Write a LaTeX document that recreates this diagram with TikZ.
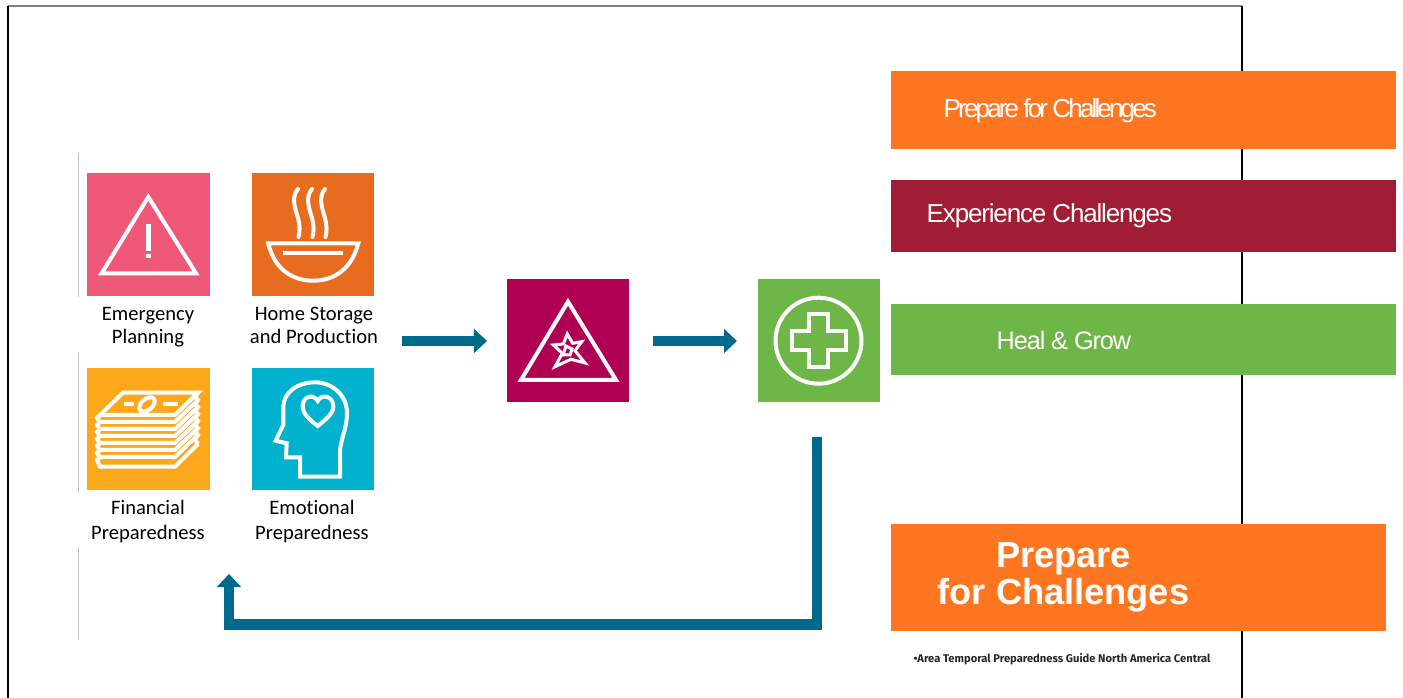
\documentclass[tikz,border=0pt]{standalone}
\usepackage{fontspec}
\setmainfont[Ligatures=NoCommon]{Carlito}
\newfontfamily\barfont[LetterSpace=-4.5]{Liberation Sans}
\newfontfamily\tightfont[LetterSpace=-11]{Liberation Sans}
\newfontfamily\boldfont{Liberation Sans}
\newfontfamily\notefont{Fira Sans}
\usetikzlibrary{arrows.meta}
\definecolor{flowblue}{HTML}{006A8E}
\definecolor{barorange}{HTML}{FF7620}
\definecolor{barred}{HTML}{A01D35}
\definecolor{bargreen}{HTML}{6DB647}
\tikzset{
	iconbox/.style={minimum size=1.225cm, inner sep=0pt, outer sep=0pt},
	glyph/.style={draw=white, line width=0.04cm, line join=miter},
	flow/.style={draw=flowblue, line width=0.105cm, -{Triangle[width=0.235cm,length=0.13cm]}},
	caption/.style={font=\fontsize{5.85}{5.85}\selectfont, text=black, inner sep=0pt, anchor=base},
	bartext/.style={text=white, inner sep=0pt},
}

\begin{document}
\begin{tikzpicture}[x=0.01cm, y=-0.01cm]
	\useasboundingbox (0,0) rectangle (1403,698);

	% page frame
	\draw[gray, line width=0.012cm] (8,6) -- (1242,6);
	\draw[black, line width=0.028cm] (8,6) -- (8,698);
	\draw[black, line width=0.02cm] (1242,6) -- (1242,698);

	% thin rule at the left
	\draw[gray!50, line width=0.01cm] (78,153) -- (78,297);
	\draw[gray!50, line width=0.01cm] (78,352) -- (78,492);
	\draw[gray!50, line width=0.01cm] (78,548) -- (78,640);

	% icon squares
	\node[iconbox, fill={rgb,255:red,240;green,88;blue,122}] (planning) at (148.5,234.7) {};
	\node[iconbox, fill={rgb,255:red,232;green,108;blue,32}] (storage) at (313,234.7) {};
	\node[iconbox, fill={rgb,255:red,252;green,168;blue,26}] (financial) at (148.5,429) {};
	\node[iconbox, fill={rgb,255:red,0;green,178;blue,206}] (emotional) at (313,429) {};
	\node[iconbox, fill={rgb,255:red,176;green,0;blue,84}] (challenge) at (568,340.5) {};
	\node[iconbox, fill=bargreen] (heal) at (819,340.5) {};

	% warning triangle
	\draw[glyph] (148.3,197) -- (196,273.3) -- (101.7,273.3) -- cycle;
	\draw[glyph, line width=0.045cm] (148.3,224) -- (148.3,251);
	\draw[glyph, line width=0.045cm] (148.3,254) -- (148.3,258);

	% bowl and steam
	\draw[glyph] (268.3,243.3) -- (358.3,243.3) .. controls (352,268) and (335,280.7) .. (313.3,280.7) .. controls (291,280.7) and (274,268) .. cycle;
	\draw[glyph] (283.3,253.3) -- (343.3,253.3);
	\draw[glyph, line cap=round] (298,189) .. controls (291,197) and (295,208) .. (298,218) .. controls (300,226) and (300,231) .. (298.5,237);
	\draw[glyph, line cap=round] (312,189) .. controls (305,197) and (309,208) .. (312,218) .. controls (314,226) and (314,231) .. (312.5,237);
	\draw[glyph, line cap=round] (325,189) .. controls (318,197) and (322,208) .. (325,218) .. controls (327,226) and (327,231) .. (325.5,237);

	% stack of notes
	\draw[glyph] (123,392.7) -- (198,392.7) -- (175,415) -- (100,415) -- cycle;
	\draw[glyph] (100,415) -- (97,418) -- (100,422) -- (175,422) -- (198,400);
	\draw[glyph] (100,422) -- (97,425) -- (100,429) -- (175,429) -- (198,407);
	\draw[glyph] (100,429) -- (97,432) -- (100,436) -- (175,436) -- (198,414);
	\draw[glyph] (100,436) -- (97,439) -- (100,443) -- (175,443) -- (198,421);
	\draw[glyph] (100,443) -- (97,446) -- (100,450) -- (175,450) -- (198,428);
	\draw[glyph] (100,450) -- (97,453) -- (100,457) -- (175,457) -- (198,435);
	\draw[glyph] (100,457) -- (97,460) -- (100,466.7) -- (175,466.7) -- (198,444);
	\draw[glyph] (198,392.7) -- (195,397) -- (198,400) -- (195,404) -- (198,407) -- (195,411) -- (198,414) -- (195,418) -- (198,421) -- (195,425) -- (198,428) -- (195,432) -- (198,435) -- (195,439) -- (198,444);
	\draw[glyph, rotate around={40:(147,404.5)}] (147,404.5) ellipse (9 and 5.5);
	\draw[glyph] (124,404) -- (134,404);
	\draw[glyph] (163,404) -- (178,404);

	% head with heart
	\draw[glyph] (340,476.7) -- (340,450) .. controls (342,435) and (347,428) .. (347,413) .. controls (347,395) and (332,382.3) .. (315,382.3) .. controls (298,382.3) and (283.5,392) .. (283.3,407) -- (283.3,425) -- (275.7,440.7) -- (286.7,443.3) -- (286,457.3) -- (300,457.3) -- (300,476.7) -- cycle;
	\draw[glyph] (317.7,426) .. controls (310,420) and (302.7,414) .. (302.7,406.7) .. controls (302.7,395) and (314,394) .. (317.7,401) .. controls (321,394) and (333.3,395) .. (333.3,406.7) .. controls (333.3,414) and (325,420) .. cycle;

	% burst in a triangle
	\draw[glyph] (568,301.7) -- (616,380) -- (521,380) -- cycle;
	\draw[glyph, line width=0.03cm] (567.3,334) -- (572.7,343.3) -- (581.7,341.7) -- (575,350.7) -- (585,363) -- (571,359.3) -- (555,366.7) -- (562.3,353.3) -- (553.3,345) -- (563.3,344) -- cycle;
	\draw[glyph, line width=0.03cm] (566,346) -- (572,349) -- (570,355) -- (563,355) -- cycle;

	% plus in a circle
	\draw[glyph] (818.5,340.7) circle (43);
	\draw[glyph] (809,314) -- (828,314) -- (828,331) -- (846,331) -- (846,350) -- (828,350) -- (828,367) -- (809,367) -- (809,350) -- (792,350) -- (792,331) -- (809,331) -- cycle;

	% labels under the icons
	\node[caption] (planninga) at (148,320.5) {Emergency};
	\node[caption] (planningb) at (148,344) {Planning};
	\node[caption] (storagea) at (314,320.5) {Home Storage};
	\node[caption] (storageb) at (314,344) {and Production};
	\node[caption] (financiala) at (148,515) {Financial};
	\node[caption] (financialb) at (148,539.5) {Preparedness};
	\node[caption] (emotionala) at (312,515) {Emotional};
	\node[caption] (emotionalb) at (312,539.5) {Preparedness};

	% arrows
	\coordinate (starta) at (402,341);
	\coordinate (enda) at (487,341);
	\coordinate (startb) at (653,341);
	\coordinate (endb) at (737,341);
	\coordinate (startc) at (817,437);
	\coordinate (cornerc) at (817,624.7);
	\coordinate (turnc) at (229,624.7);
	\coordinate (endc) at (229,574);
	\draw[flow] (starta) -- (enda);
	\draw[flow] (startb) -- (endb);
	\draw[flow, line join=miter] (startc) -- (cornerc) -- (turnc) -- (endc);

	% bars on the right
	\fill[barorange] (891,71) rectangle (1396,149);
	\fill[barred] (891,180) rectangle (1396,252);
	\fill[bargreen] (891,304) rectangle (1396,375);
	\fill[barorange] (891,524) rectangle (1386,631);

	\node[bartext, font=\tightfont\fontsize{7.4}{7.4}\selectfont, anchor=west] (preparebar) at (943,111) {Prepare for Challenges};
	\node[bartext, font=\barfont\fontsize{7.4}{7.4}\selectfont, anchor=west] (experiencebar) at (926,216) {Experience Challenges};
	\node[bartext, font=\barfont\fontsize{7.2}{7.2}\selectfont, anchor=west] (healbar) at (996,340) {Heal \& Grow};
	\node[bartext, font=\boldfont\bfseries\fontsize{10.3}{10.3}\selectfont] (preparea) at (1063.5,559) {Prepare};
	\node[bartext, font=\boldfont\bfseries\fontsize{10.3}{10.3}\selectfont] (prepareb) at (1063.5,595) {for Challenges};
	\node[font=\notefont\bfseries\fontsize{3.18}{3.18}\selectfont, text=black!85, anchor=west, inner sep=0pt] (guide) at (913,659) {•Area Temporal Preparedness Guide North America Central};
\end{tikzpicture}
\end{document}
